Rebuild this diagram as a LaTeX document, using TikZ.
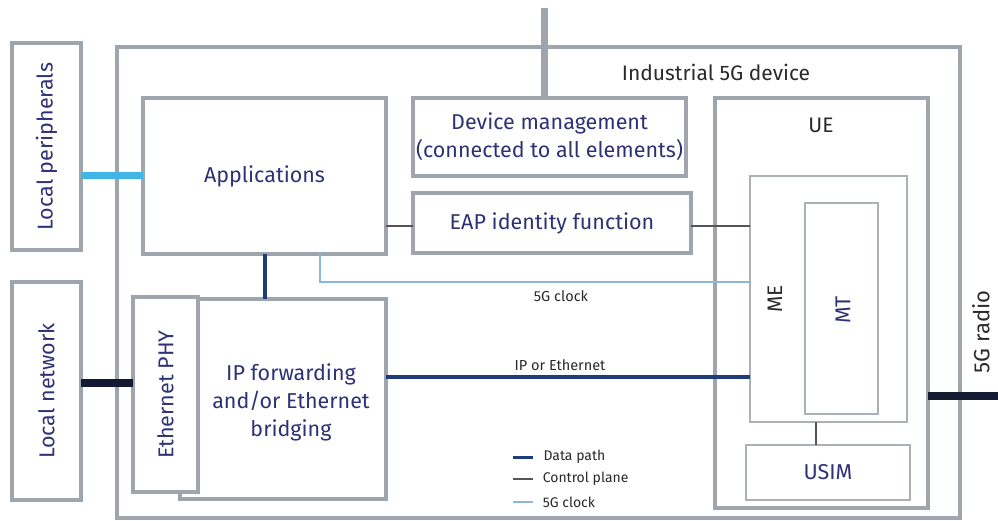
\documentclass[tikz,border=0pt]{standalone}
\usepackage{fontspec}
\setmainfont{Fira Sans}
\definecolor{boxgray}{HTML}{9EA5AD}
\definecolor{thingray}{HTML}{AAB0B6}
\definecolor{navytext}{HTML}{2E3275}
\definecolor{darktext}{HTML}{2A2A2A}
\definecolor{datablue}{HTML}{1E3C7C}
\definecolor{navyline}{HTML}{151A33}
\definecolor{periphcyan}{HTML}{41B6E6}
\definecolor{clockblue}{HTML}{8DB6DC}
\definecolor{ctlgray}{HTML}{555555}
\tikzset{
	box/.style={draw=boxgray, line width=4pt, fill=white, inner sep=0pt, outer sep=0pt},
	thinbox/.style={box, draw=thingray, line width=2.5pt},
	boxtext/.style={text=navytext, font=\fontsize{21.5}{28}\selectfont, align=center, inner sep=0pt},
	plaintext/.style={text=darktext, font=\fontsize{21}{25}\selectfont, inner sep=0pt},
	smalltext/.style={text=darktext, font=\fontsize{14.5}{17}\selectfont, inner sep=0pt},
	datapath/.style={draw=datablue, line width=4pt},
	ctlpath/.style={draw=ctlgray, line width=1.5pt},
	clockpath/.style={draw=clockblue, line width=1.5pt},
	lanlink/.style={draw=navyline, line width=8pt},
	periphlink/.style={draw=periphcyan, line width=7pt},
	mgmtlink/.style={draw=boxgray, line width=7pt}
}

\begin{document}
\begin{tikzpicture}[x=1pt, y=-1pt]
	\useasboundingbox (0,0) rectangle (998,521);
	% Boxes:
	\node[box, minimum width=843pt, minimum height=471pt] (device) at (538.5,282.5){};
	\node[plaintext] (devicelabel) at (716,72){Industrial 5G device};
	\node[box, minimum width=69pt, minimum height=207pt] (locperiph) at (46.5,146.5){};
	\node[boxtext, rotate=90] (locperiphlabel) at (locperiph){Local peripherals};
	\node[box, minimum width=69pt, minimum height=218pt] (locnet) at (46.5,391){};
	\node[boxtext, rotate=90] (locnetlabel) at (locnet){Local network};
	\node[box, boxtext, minimum width=243pt, minimum height=156pt] (apps) at (264.5,176){Applications};
	\node[box, boxtext, minimum width=273pt, minimum height=78pt] (devmgmt) at (549.5,137){Device management\\(connected to all elements)};
	\node[box, boxtext, minimum width=278pt, minimum height=60pt] (eap) at (552,223){EAP identity function};
	\node[box, minimum width=206pt, minimum height=200pt] (ipfwd) at (283,399){};
	\node[boxtext] (ipfwdlabel) at (291,402){IP forwarding\\and/or Ethernet\\bridging};
	\node[box, minimum width=65pt, minimum height=195pt] (phy) at (165.5,394.5){};
	\node[boxtext, rotate=90] (phylabel) at (phy){Ethernet PHY};
	\node[box, minimum width=213pt, minimum height=410pt] (ue) at (821.5,303){};
	\node[plaintext] (uelabel) at (821,125){UE};
	\node[thinbox, minimum width=157pt, minimum height=246pt] (me) at (828.5,299){};
	\node[plaintext, rotate=90] (melabel) at (775,299){ME};
	\node[thinbox, minimum width=73pt, minimum height=211pt] (mt) at (841.5,308.5){};
	\node[boxtext, rotate=90] (mtlabel) at (843,310){MT};
	\node[thinbox, boxtext, minimum width=164pt, minimum height=55pt] (usim) at (828,472.5){USIM};
	% Wires:
	\coordinate (mgmtup) at (544,8);
	\coordinate (lanrow) at (0,383);
	\coordinate (radio) at (998,396);
	\coordinate (ctlrow) at (0,226);
	\coordinate (iprow) at (0,377);
	\coordinate (clk) at (320,282);
	\coordinate (simcol) at (816,0);
	\draw[mgmtlink] (mgmtup) -- (mgmtup |- devmgmt.north);
	\draw[periphlink] (locperiph.east |- apps.west) -- (apps.west);
	\draw[lanlink] (locnet.east |- lanrow) -- (phy.west |- lanrow);
	\draw[lanlink] (ue.east |- radio) -- (radio);
	\node[plaintext, rotate=90, font=\fontsize{22}{26}\selectfont] (radiolabel) at (981,332){5G radio};
	\draw[datapath] (apps.south) -- (apps.south |- ipfwd.north);
	\draw[clockpath] (clk |- apps.south) -- (clk) -- (clk -| me.west);
	\node[smalltext] (clocklabel) at (561,296){5G clock};
	\draw[datapath] (ipfwd.east |- iprow) -- (me.west |- iprow);
	\node[smalltext] (iplabel) at (560,365){IP or Ethernet};
	\draw[ctlpath] (apps.east |- ctlrow) -- (eap.west |- ctlrow);
	\draw[ctlpath] (eap.east |- ctlrow) -- (me.west |- ctlrow);
	\draw[ctlpath] (simcol |- me.south) -- (simcol |- usim.north);
	% Legend:
	\coordinate (legdata) at (513,457);
	\coordinate (legctl) at (513,479);
	\coordinate (legclock) at (513,502);
	\draw[datapath, line width=3pt] (legdata) -- ++(20,0) node[smalltext, font=\fontsize{14}{16}\selectfont, anchor=west, xshift=9pt] (legdatalabel){Data path};
	\draw[ctlpath] (legctl) -- ++(20,0) node[smalltext, font=\fontsize{14}{16}\selectfont, anchor=west, xshift=9pt] (legctllabel){Control plane};
	\draw[clockpath] (legclock) -- ++(20,0) node[smalltext, font=\fontsize{14}{16}\selectfont, anchor=west, xshift=9pt] (legclocklabel){5G clock};
\end{tikzpicture}
\end{document}
